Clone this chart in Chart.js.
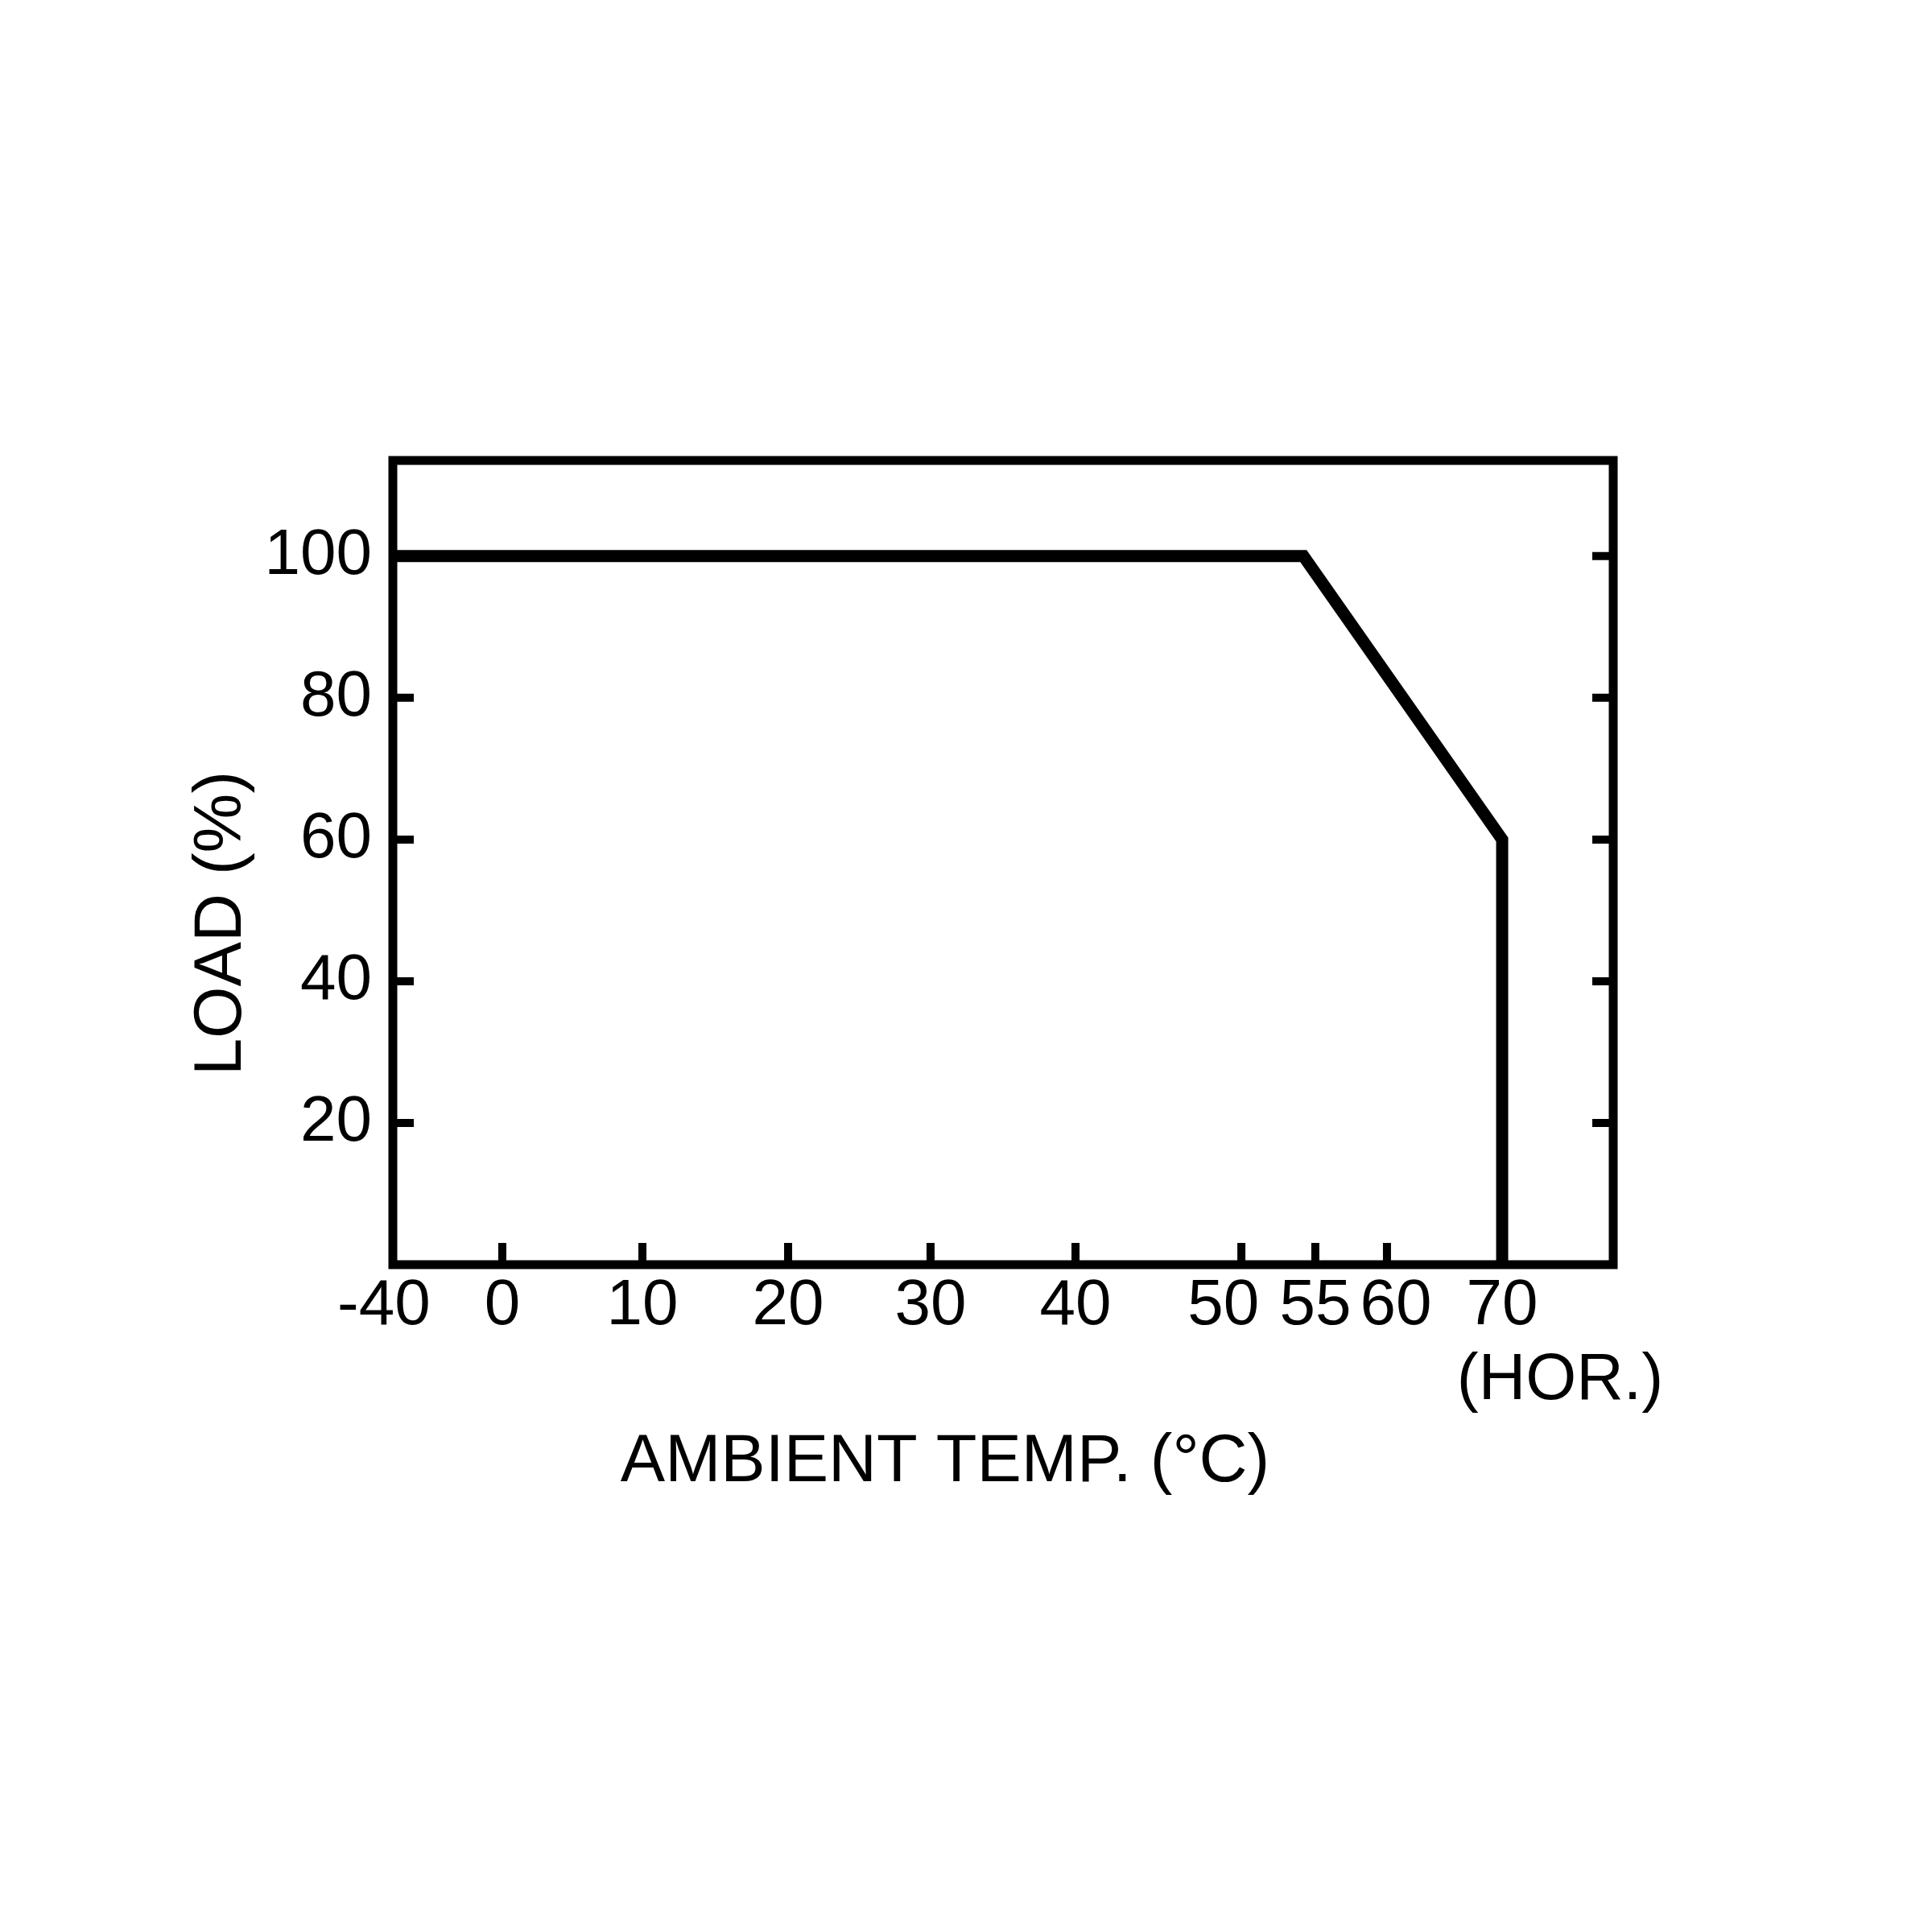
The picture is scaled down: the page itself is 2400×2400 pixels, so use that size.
<!DOCTYPE html>
<html>
<head>
<meta charset="utf-8">
<script src="https://cdn.jsdelivr.net/npm/chart.js@4/dist/chart.umd.min.js"></script>
<style>
  html, body { margin: 0; padding: 0; background: #fff; }
  canvas { display: block; }
</style>
</head>
<body>
<canvas id="deratingChart" width="2400" height="2400"></canvas>
<script>
// Derating curve (load vs ambient temperature)
const temps = [-40, 54.2, 70, 70];
const loads = [100, 100, 60, 0];
const xTicks = [-40, 0, 10, 20, 30, 40, 50, 55, 60, 70];
// spaces nudge the crowded labels apart like on the drawing
const xTickLabels = ['-40 ', '0', '10', '20', '30', '40', '50  ', '55', ' 60', '70'];
const yTicks = [20, 40, 60, 80, 100];
const xTitle = 'AMBIENT TEMP. (°C)';
const yTitle = 'LOAD (%)';
const xNote = '(HOR.)';

// the temperature axis on the drawing is not linear, every tick has its own spot
// [value, fraction of axis width]
const xAxisStops = [[-40, 0], [0, 0.0897], [10, 0.2045], [20, 0.3239], [30, 0.4406],
    [40, 0.5594], [50, 0.6953], [55, 0.7559], [60, 0.8146], [70, 0.909], [80, 1]];

class PiecewiseScale extends Chart.LinearScale {
    static id = 'piecewise';
    static defaults = {};

    toDecimal(v) {
        const s = xAxisStops;
        let i = 1;
        while (i < s.length - 1 && v > s[i][0]) i++;
        const [v0, f0] = s[i - 1];
        const [v1, f1] = s[i];
        return f0 + (v - v0) / (v1 - v0) * (f1 - f0);
    }

    getPixelForValue(value) {
        return this.getPixelForDecimal(this.toDecimal(value));
    }

    getValueForPixel(pixel) {
        const d = this.getDecimalForPixel(pixel);
        const s = xAxisStops;
        let i = 1;
        while (i < s.length - 1 && d > s[i][1]) i++;
        const [v0, f0] = s[i - 1];
        const [v1, f1] = s[i];
        return v0 + (d - f0) / (f1 - f0) * (v1 - v0);
    }
}
Chart.register(PiecewiseScale);

const fontFamily = '"Liberation Sans", Arial, Helvetica, sans-serif';

// frame, inside ticks and the titles
const framePlugin = {
    id: 'frame',
    afterDatasetsDraw(chart) {
        const { ctx, chartArea: a, scales: { x, y } } = chart;
        ctx.save();
        ctx.strokeStyle = '#000';
        ctx.lineWidth = 11;
        ctx.strokeRect(a.left, a.top, a.right - a.left, a.bottom - a.top);

        ctx.lineWidth = 10;
        ctx.beginPath();
        xTicks.slice(1).forEach(v => {
            const px = x.getPixelForValue(v);
            ctx.moveTo(px, a.bottom);
            ctx.lineTo(px, a.bottom - 27);
        });
        yTicks.forEach(v => {
            const py = y.getPixelForValue(v);
            ctx.moveTo(a.left, py);
            ctx.lineTo(a.left + 26, py);
            ctx.moveTo(a.right, py);
            ctx.lineTo(a.right - 26, py);
        });
        ctx.stroke();

        ctx.fillStyle = '#000';
        ctx.font = '83px ' + fontFamily;
        ctx.textAlign = 'center';
        ctx.textBaseline = 'middle';
        ctx.fillText(xTitle, a.left + 0.4525 * (a.right - a.left), a.bottom + 246);
        ctx.font = '81px ' + fontFamily;
        ctx.fillText(xNote, x.getPixelForValue(70) + 72, a.bottom + 145);

        ctx.font = '83px ' + fontFamily;
        ctx.translate(276, a.top + 0.5756 * (a.bottom - a.top));
        ctx.rotate(-Math.PI / 2);
        ctx.fillText(yTitle, 0, 0);
        ctx.restore();
    }
};

let ctx = document.getElementById('deratingChart').getContext('2d');

new Chart(ctx, {
    type: 'line',
    data: {
        datasets: [{
            data: temps.map((t, i) => ({ x: t, y: loads[i] })),
            borderColor: '#000',
            borderWidth: 15,
            borderJoinStyle: 'miter',
            borderCapStyle: 'butt',
            pointRadius: 0,
            tension: 0,
            fill: false,
            clip: false
        }]
    },
    options: {
        responsive: false,
        devicePixelRatio: 1,
        animation: false,
        layout: {
            padding: { left: 0, top: 572, right: 396, bottom: 0 }
        },
        plugins: {
            legend: { display: false },
            tooltip: { enabled: false }
        },
        scales: {
            x: {
                type: 'piecewise',
                min: -40,
                max: 80,
                grid: { display: false, drawTicks: false },
                border: { display: false },
                afterBuildTicks: scale => {
                    scale.ticks = xTicks.map(v => ({ value: v }));
                },
                afterFit: scale => { scale.height = 829; },
                ticks: {
                    padding: 4,
                    color: '#000',
                    maxRotation: 0,
                    autoSkip: false,
                    font: { family: fontFamily, size: 80 },
                    callback: (v, i) => xTickLabels[i]
                }
            },
            y: {
                type: 'linear',
                min: 0,
                max: 113.5,
                grid: { display: false, drawTicks: false },
                border: { display: false },
                afterBuildTicks: scale => {
                    scale.ticks = yTicks.map(v => ({ value: v }));
                },
                afterFit: scale => { scale.width = 488; },
                ticks: {
                    padding: 26,
                    color: '#000',
                    autoSkip: false,
                    font: { family: fontFamily, size: 80 },
                    callback: v => String(v)
                }
            }
        }
    },
    plugins: [framePlugin]
});
</script>
</body>
</html>
